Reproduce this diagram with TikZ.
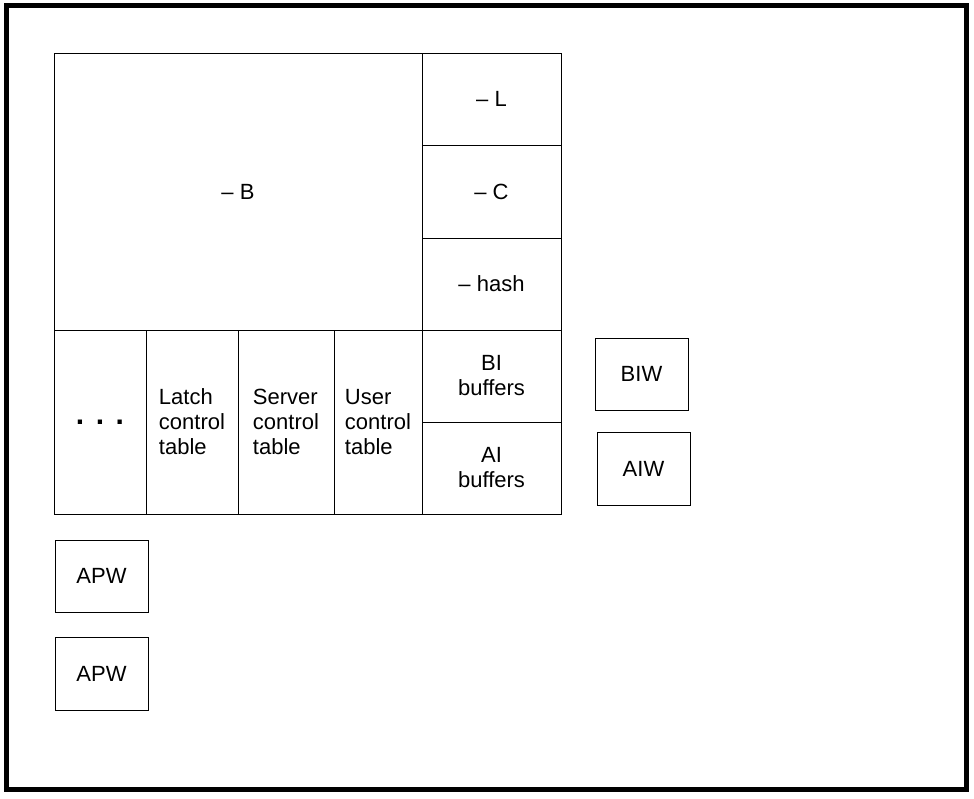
\documentclass[tikz,border=0pt]{standalone}
\usepackage{fontspec}
\setmainfont{Liberation Sans}
\usepackage{tikz}
\usetikzlibrary{positioning}

\begin{document}
\begin{tikzpicture}[x=1pt, y=-1pt,
    font=\fontsize{22pt}{25pt}\selectfont,
    cell/.style={rectangle, draw, line width=1pt, outer sep=0pt, inner sep=0pt},
    tablecell/.style={cell, minimum height=184pt, align=left},
    sidecell/.style={cell, minimum width=139pt, minimum height=92pt, align=center},
    writer/.style={cell, minimum width=93pt, minimum height=72pt}]

\useasboundingbox (0,0) rectangle (974,798);

% Frame

\node[draw, line width=5pt, minimum width=960pt, minimum height=784pt] (Frame) at (486,397) {};

% Top part

\node[cell, minimum width=368pt, minimum height=277pt] (BNode) at (238,191.5) {– B};

\node[sidecell] (LNode) at (491.5,99) {– L};
\node[sidecell, minimum height=93pt, below=0pt of LNode]     (CNode)    {– C};
\node[sidecell, below=0pt of CNode]                          (HashNode) {– hash};

% Bottom row

\node[tablecell, minimum width=92pt, font=\fontsize{30pt}{30pt}\selectfont\bfseries] (DotsNode) at (100,422) {.\hspace{11.5pt}.\hspace{11.5pt}.};
\node[tablecell, minimum width=92pt] (LatchNode)  at (192,422) {Latch\\control\\table};
\node[tablecell, minimum width=96pt] (ServerNode) at (286,422) {Server\\control\\table};
\node[tablecell, minimum width=88pt] (UserNode)   at (378,422) {User\\control\\table};

\node[sidecell] (BINode) at (491.5,376) {BI\\buffers};
\node[sidecell, below=0pt of BINode] (AINode) {AI\\buffers};

% Writers

\node[writer] (BIWNode) at (641.5,374)   {BIW};
\node[writer, minimum height=73pt] (AIWNode) at (643.5,468.5) {AIW};

\node[writer] (APWNode0) at (101.5,576) {APW};
\node[writer, minimum height=73pt] (APWNode1) at (101.5,673.5) {APW};

\end{tikzpicture}
\end{document}
